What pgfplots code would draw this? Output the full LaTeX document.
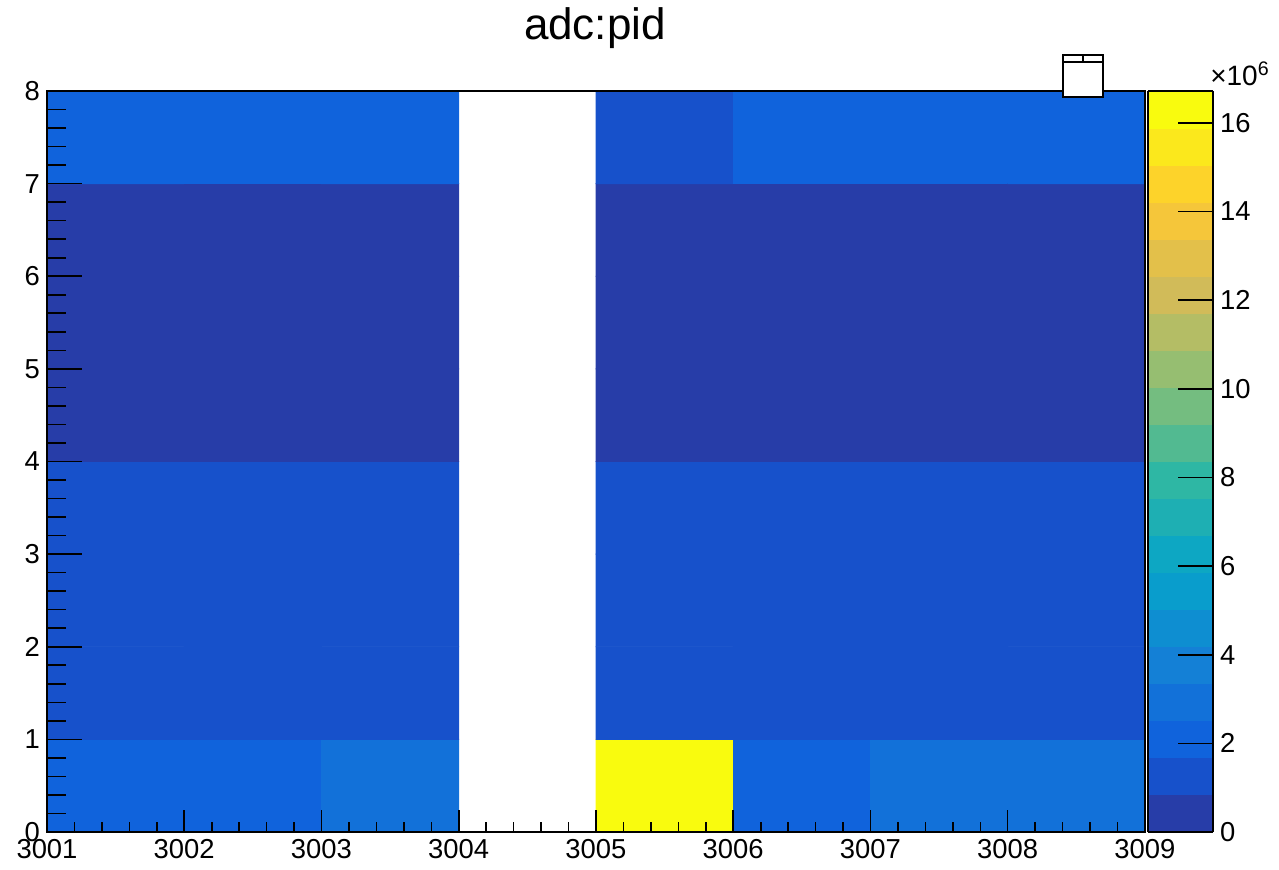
\documentclass[border=0pt]{standalone}
\usepackage{pgfplots}
\pgfplotsset{compat=1.18}
\usepackage{fontspec}
\setmainfont{Liberation Sans}
\begin{document}
\begin{tikzpicture}
\begin{axis}[
  at={(23.5pt,19pt)}, anchor=south west,
  width=549pt, height=370.5pt, scale only axis,
  xmin=3001, xmax=3009, ymin=0, ymax=8,
  xtick={3001,...,3009}, ytick={0,...,8},
  minor xtick={3001.2,3001.4,3001.6,3001.8,3002.2,3002.4,3002.6,3002.8,3003.2,3003.4,3003.6,3003.8,3004.2,3004.4,3004.6,3004.8,3005.2,3005.4,3005.6,3005.8,3006.2,3006.4,3006.6,3006.8,3007.2,3007.4,3007.6,3007.8,3008.2,3008.4,3008.6,3008.8},
  minor y tick num=4,
  tick align=inside, tick pos=left,
  /pgf/number format/assume math mode=true,
  xticklabel style={/pgf/number format/1000 sep={}},
  ticklabel style={font=\fontsize{13.7}{16}\selectfont},
  major tick length=17.5pt, minor tick length=9.5pt,
  xtick style={/pgfplots/major tick length=11pt, /pgfplots/minor tick length=5pt},
  tick style={black, line width=0.8pt},
  axis line style={black, line width=0.8pt},
  axis on top,
  colormap={rootbird}{rgb255=(39,61,168) rgb255=(23,81,203) rgb255=(16,99,220) rgb255=(18,113,217) rgb255=(20,128,214) rgb255=(14,142,209) rgb255=(9,157,204) rgb255=(13,167,195) rgb255=(30,175,179) rgb255=(46,183,164) rgb255=(82,186,145) rgb255=(116,189,128) rgb255=(150,190,113) rgb255=(180,189,101) rgb255=(209,187,89) rgb255=(227,192,74) rgb255=(245,198,58) rgb255=(253,211,42) rgb255=(251,232,28) rgb255=(249,251,14)},
  colormap access=piecewise constant,
  point meta min=0, point meta max=16.72,
  colorbar right,
  colorbar style={
    at={(parent axis.north east)}, anchor=north west, xshift=-7pt,
    width=32.5pt,
    ytick={0,2,...,16},
    tick align=inside, ytick pos=right, yticklabel pos=right,
    major tick length=17.5pt,
    tick style={black, line width=0.8pt},
    axis line style={black, line width=0.8pt},
    yticklabel style={font=\fontsize{13.7}{16}\selectfont},
    /pgf/number format/assume math mode=true,
  },
]
% left block: bins 3001-3004
\addplot[matrix plot*, mesh/cols=3, point meta=explicit] table[meta=c] {
x y c
3001.5 0.5 2.4
3002.5 0.5 2.4
3003.5 0.5 2.9
3001.5 1.5 1.3
3002.5 1.5 1.3
3003.5 1.5 1.3
3001.5 2.5 1.3
3002.5 2.5 1.3
3003.5 2.5 1.3
3001.5 3.5 1.3
3002.5 3.5 1.3
3003.5 3.5 1.3
3001.5 4.5 0.5
3002.5 4.5 0.5
3003.5 4.5 0.5
3001.5 5.5 0.5
3002.5 5.5 0.5
3003.5 5.5 0.5
3001.5 6.5 0.5
3002.5 6.5 0.5
3003.5 6.5 0.5
3001.5 7.5 2.1
3002.5 7.5 2.1
3003.5 7.5 2.1
};
% right block: bins 3005-3009
\addplot[matrix plot*, mesh/cols=4, point meta=explicit] table[meta=c] {
x y c
3005.5 0.5 16.6
3006.5 0.5 2.3
3007.5 0.5 2.9
3008.5 0.5 2.6
3005.5 1.5 1.3
3006.5 1.5 1.3
3007.5 1.5 1.3
3008.5 1.5 1.3
3005.5 2.5 1.3
3006.5 2.5 1.3
3007.5 2.5 1.3
3008.5 2.5 1.3
3005.5 3.5 1.3
3006.5 3.5 1.3
3007.5 3.5 1.3
3008.5 3.5 1.3
3005.5 4.5 0.5
3006.5 4.5 0.5
3007.5 4.5 0.5
3008.5 4.5 0.5
3005.5 5.5 0.5
3006.5 5.5 0.5
3007.5 5.5 0.5
3008.5 5.5 0.5
3005.5 6.5 0.5
3006.5 6.5 0.5
3007.5 6.5 0.5
3008.5 6.5 0.5
3005.5 7.5 1.5
3006.5 7.5 2.2
3007.5 7.5 2.2
3008.5 7.5 2.2
};
\end{axis}
\node[anchor=base, font=\fontsize{22}{26}\selectfont] at (297.5pt,415pt) {adc:pid};
\node[font=\fontsize{14}{16}\selectfont, inner sep=0pt] at (620pt,398pt) {×10\textsuperscript{6}};
\draw[line width=0.8pt, fill=white] (531.5pt,386.5pt) rectangle (551.5pt,407.5pt);
\draw[line width=0.6pt] (531.5pt,404pt) -- (551.5pt,404pt) (541.5pt,404pt) -- (541.5pt,407.5pt);
\pgfresetboundingbox
\path (0,0) rectangle (639.5pt,435pt);
\end{tikzpicture}
\end{document}
